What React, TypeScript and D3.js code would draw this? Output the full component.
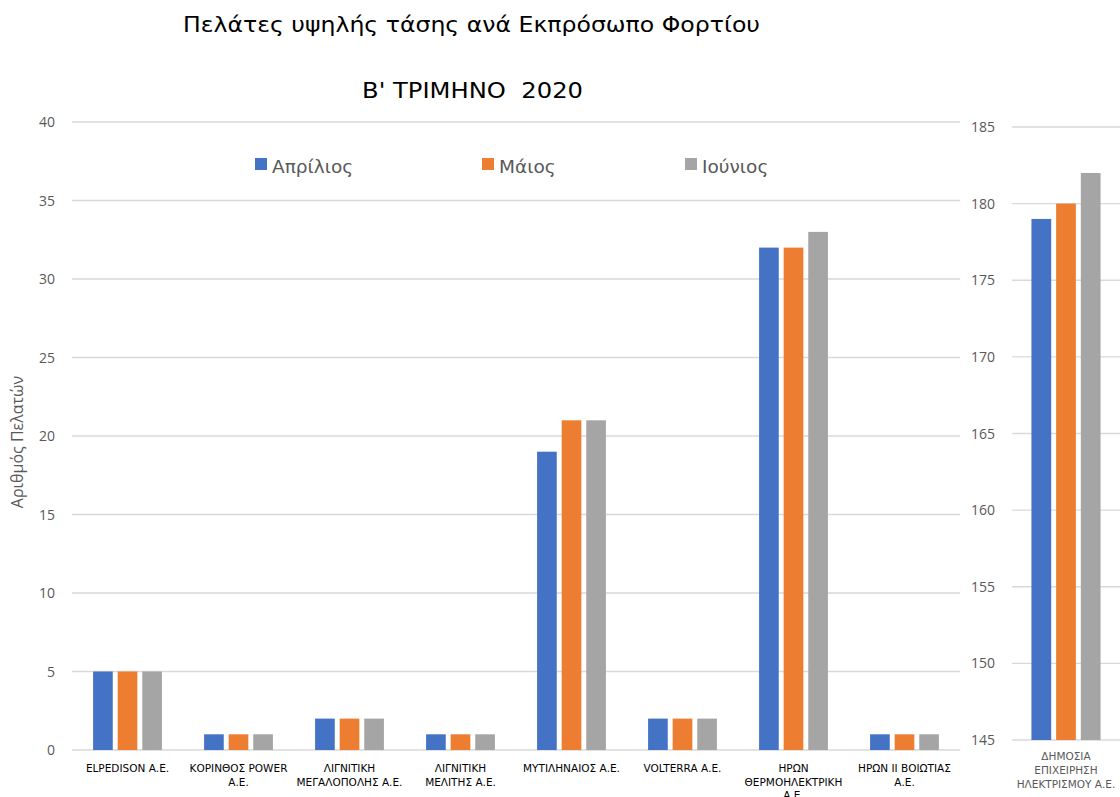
import React from "react";
import * as d3 from "d3";

const categories = [
  "ELPEDISON Α.Ε.",
  "ΚΟΡΙΝΘΟΣ POWER Α.Ε.",
  "ΛΙΓΝΙΤΙΚΗ ΜΕΓΑΛΟΠΟΛΗΣ Α.Ε.",
  "ΛΙΓΝΙΤΙΚΗ ΜΕΛΙΤΗΣ Α.Ε.",
  "ΜΥΤΙΛΗΝΑΙΟΣ Α.Ε.",
  "VOLTERRA Α.Ε.",
  "ΗΡΩΝ ΘΕΡΜΟΗΛΕΚΤΡΙΚΗ Α.Ε.",
  "ΗΡΩΝ ΙΙ ΒΟΙΩΤΙΑΣ Α.Ε.",
];
const categoryLines = [
  ["ELPEDISON Α.Ε."],
  ["ΚΟΡΙΝΘΟΣ POWER", "Α.Ε."],
  ["ΛΙΓΝΙΤΙΚΗ", "ΜΕΓΑΛΟΠΟΛΗΣ Α.Ε."],
  ["ΛΙΓΝΙΤΙΚΗ", "ΜΕΛΙΤΗΣ Α.Ε."],
  ["ΜΥΤΙΛΗΝΑΙΟΣ Α.Ε."],
  ["VOLTERRA Α.Ε."],
  ["ΗΡΩΝ", "ΘΕΡΜΟΗΛΕΚΤΡΙΚΗ", "Α.Ε."],
  ["ΗΡΩΝ ΙΙ ΒΟΙΩΤΙΑΣ", "Α.Ε."],
];
const series = ["Απρίλιος", "Μάιος", "Ιούνιος"];
const colors = ["#4472C4", "#ED7D31", "#A5A5A5"];
const april = [5, 1, 2, 1, 19, 2, 32, 1];
const may = [5, 1, 2, 1, 21, 2, 32, 1];
const june = [5, 1, 2, 1, 21, 2, 33, 1];

const rightCategories = ["ΔΗΜΟΣΙΑ ΕΠΙΧΕΙΡΗΣΗ ΗΛΕΚΤΡΙΣΜΟΥ Α.Ε."];
const rightCategoryLines = [["ΔΗΜΟΣΙΑ", "ΕΠΙΧΕΙΡΗΣΗ", "ΗΛΕΚΤΡΙΣΜΟΥ Α.Ε."]];
const rightApril = [179];
const rightMay = [180];
const rightJune = [182];

const leftTicks = [0, 5, 10, 15, 20, 25, 30, 35, 40];
const rightTicks = [145, 150, 155, 160, 165, 170, 175, 180, 185];

const title1 = "Πελάτες υψηλής τάσης ανά Εκπρόσωπο Φορτίου";
const title2 = "Β' ΤΡΙΜΗΝΟ  2020";
const yTitle = "Αριθμός Πελατών";

const TAHOMA = "'DejaVu Sans', 'Noto Sans', sans-serif";
const CALIBRI = "'Open Sans', 'Noto Sans', sans-serif";
const GRID = "#d9d9d9";
const GRAYTXT = "#595959";

export default function App() {
  const leftSeries = [april, may, june];
  const rightSeries = [rightApril, rightMay, rightJune];

  const xL = d3.scaleBand<string>().domain(categories).range([72, 960]).paddingInner(0.38).paddingOuter(0.19);
  const yL = d3.scaleLinear().domain([0, 40]).range([750, 122]);
  const sub = d3.scaleBand<string>().domain(series).range([0, xL.bandwidth()]).paddingInner(0.2);

  const xR = d3.scaleBand<string>().domain(rightCategories).range([1012, 1120]).paddingInner(0.36).paddingOuter(0.18);
  const yR = d3.scaleLinear().domain([145, 185]).range([740, 127]);
  const subR = d3.scaleBand<string>().domain(series).range([0, xR.bandwidth()]).paddingInner(0.2);

  const legendX = [255, 482, 685];

  return (
    <svg width={1120} height={797} style={{ position: "absolute", left: 0, top: 0, background: "#fff" }}>
      <rect x={0} y={0} width={1120} height={797} fill="#fff" />
      {/* Titles */}
      <text x={183} y={32} fontFamily={TAHOMA} fontSize={22} fill="#000" textLength={577} lengthAdjust="spacingAndGlyphs">{title1}</text>
      <text x={362} y={98} fontFamily={TAHOMA} fontSize={22} fill="#000" style={{ whiteSpace: "pre" }} xmlSpace="preserve" textLength={221} lengthAdjust="spacingAndGlyphs">{title2}</text>

      {/* Left grid */}
      {leftTicks.map((t) => (
        <g key={"lt" + t}>
          <line x1={72} x2={960} y1={yL(t)} y2={yL(t)} stroke={GRID} strokeWidth={1.3} />
          <text x={55} y={yL(t) + 5} textAnchor="end" fontFamily={CALIBRI} fontSize={14} fill={GRAYTXT}>{t}</text>
        </g>
      ))}
      {/* Right grid */}
      {rightTicks.map((t) => (
        <g key={"rt" + t}>
          <line x1={1012} x2={1120} y1={yR(t)} y2={yR(t)} stroke={GRID} strokeWidth={1.3} />
          <text x={995} y={yR(t) + 5} textAnchor="end" fontFamily={CALIBRI} fontSize={14} fill={GRAYTXT}>{t}</text>
        </g>
      ))}

      {/* Y title */}
      <text transform={`translate(23,442) rotate(-90)`} textAnchor="middle" fontFamily={CALIBRI} fontSize={16} fill={GRAYTXT}>{yTitle}</text>

      {/* Left bars */}
      {categories.map((c, i) => (
        <g key={c} transform={`translate(${xL(c)},0)`}>
          {series.map((s, j) => {
            const v = leftSeries[j][i];
            return (
              <rect key={s} x={sub(s)} y={yL(v)} width={sub.bandwidth()} height={yL(0) - yL(v)} fill={colors[j]} />
            );
          })}
        </g>
      ))}
      {/* Right bars */}
      {rightCategories.map((c, i) => (
        <g key={c} transform={`translate(${xR(c)},0)`}>
          {series.map((s, j) => {
            const v = rightSeries[j][i];
            return (
              <rect key={s} x={subR(s)} y={yR(v)} width={subR.bandwidth()} height={yR(145) - yR(v)} fill={colors[j]} />
            );
          })}
        </g>
      ))}

      {/* Left category labels */}
      {categories.map((c, i) => (
        <text key={"cl" + c} textAnchor="middle" fontFamily={TAHOMA} fontSize={10.5} fill="#000">
          {categoryLines[i].map((l, k) => (
            <tspan key={k} x={(xL(c) as number) + xL.bandwidth() / 2} y={772 + k * 13.5}>{l}</tspan>
          ))}
        </text>
      ))}
      {/* Right category labels */}
      {rightCategories.map((c, i) => (
        <text key={"cr" + c} textAnchor="middle" fontFamily={TAHOMA} fontSize={10.5} fill={GRAYTXT}>
          {rightCategoryLines[i].map((l, k) => (
            <tspan key={k} x={(xR(c) as number) + xR.bandwidth() / 2} y={760 + k * 14}>{l}</tspan>
          ))}
        </text>
      ))}

      {/* Legend */}
      {series.map((s, j) => (
        <g key={"lg" + s}>
          <rect x={legendX[j]} y={158} width={12} height={12} fill={colors[j]} />
          <text x={legendX[j] + 17} y={173} fontFamily={TAHOMA} fontSize={18.5} fill={GRAYTXT}>{s}</text>
        </g>
      ))}
    </svg>
  );
}
